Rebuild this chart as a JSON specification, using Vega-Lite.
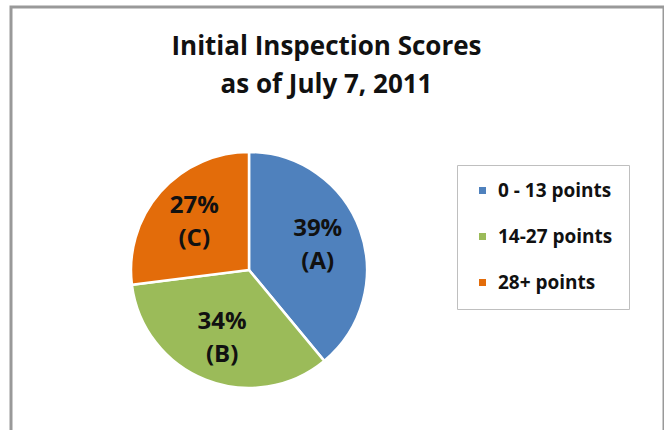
{
  "$schema": "https://vega.github.io/schema/vega-lite/v6.json",
  "autosize": {"type": "none"},
  "padding": {"left": 11, "top": 7, "right": 0, "bottom": 0},
  "width": 653,
  "height": 440,
  "background": "white",
  "config": {
    "view": {"stroke": null},
    "font": "Open Sans"
  },
  "title": {
    "text": ["Initial Inspection Scores", "as of July 7, 2011"],
    "fontSize": 26,
    "font": "Open Sans",
    "fontWeight": "bold",
    "lineHeight": 38,
    "color": "#111111",
    "anchor": "middle",
    "frame": "group",
    "offset": -92,
    "dx": -11
  },
  "layer": [
    {
      "data": {"values": [{"frame": 1}]},
      "mark": {"type": "rect", "fill": null, "stroke": "#999999", "strokeWidth": 3}
    },
    {
      "data": {
        "values": [
          {"k": 1, "category": "0 - 13 points", "value": 39, "label": "39%\n(A)"},
          {"k": 2, "category": "14-27 points", "value": 34, "label": "34%\n(B)"},
          {"k": 3, "category": "28+ points", "value": 27, "label": "27%\n(C)"}
        ]
      },
      "encoding": {
        "theta": {"field": "value", "type": "quantitative", "stack": true},
        "order": {"field": "k", "type": "quantitative"}
      },
      "layer": [
        {
          "mark": {"type": "arc", "x": 238, "y": 263, "outerRadius": 118, "stroke": "white", "strokeWidth": 2.5},
          "encoding": {
            "color": {
              "field": "category",
              "type": "nominal",
              "sort": ["0 - 13 points", "14-27 points", "28+ points"],
              "scale": {"domain": ["0 - 13 points", "14-27 points", "28+ points"], "range": ["#4F81BD", "#9BBB59", "#E36C0A"]},
              "legend": {
                "title": null,
                "orient": "none",
                "legendX": 446,
                "legendY": 158,
                "padding": 16,
                "strokeColor": "#bfbfbf",
                "fillColor": "white",
                "symbolType": "square",
                "symbolSize": 49,
                "symbolStrokeWidth": 0,
                "labelFont": "Open Sans",
                "labelFontSize": 19,
                "labelFontWeight": "bold",
                "labelColor": "#111111",
                "labelOffset": 6,
                "rowPadding": 26
              }
            }
          }
        },
        {
          "mark": {"type": "text", "x": 238, "y": 263, "radius": 73, "dy": -16, "fontSize": 24, "fontWeight": "bold", "font": "Open Sans", "lineBreak": "\n", "lineHeight": 33, "color": "#111111", "align": "center", "baseline": "middle"},
          "encoding": {
            "text": {"field": "label", "type": "nominal"}
          }
        }
      ]
    }
  ]
}
